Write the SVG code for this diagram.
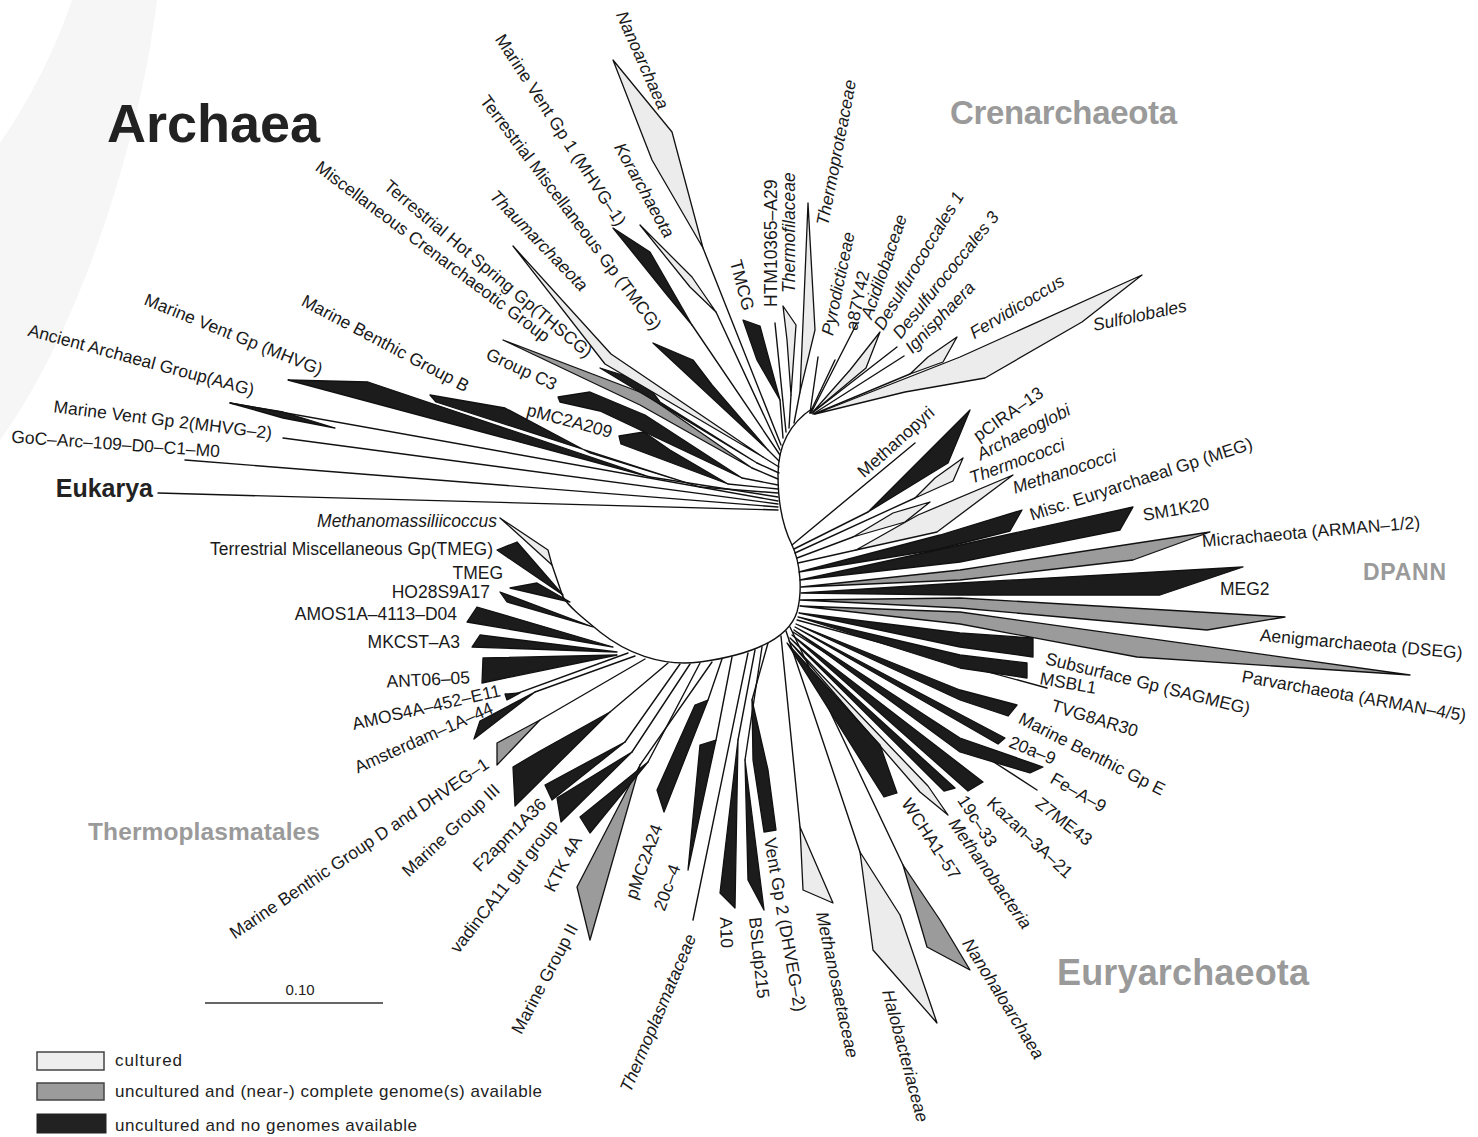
<svg xmlns="http://www.w3.org/2000/svg" width="1478" height="1137" viewBox="0 0 1478 1137">
<style>
.lb{font-family:"Liberation Sans",Arial,sans-serif;font-size:17.5px;fill:#1a1a1a}
.it{font-style:italic}
.hd{font-family:"Liberation Sans",Arial,sans-serif;font-weight:bold;fill:#9a9a9a}
.cu{fill:#ececec;stroke:#111;stroke-width:1.3;stroke-linejoin:round}
.gn{fill:#9b9b9b;stroke:#111;stroke-width:1.3;stroke-linejoin:round}
.nc{fill:#1c1c1c;stroke:#111;stroke-width:1.3;stroke-linejoin:round}
.ln{fill:none;stroke:#111;stroke-width:1.4;stroke-linecap:round}
.lg{font-family:"Liberation Sans",Arial,sans-serif;font-size:17px;fill:#222}
</style>
<rect width="1478" height="1137" fill="#fff"/>
<path d="M72,0 L157,0 C140,140 80,330 0,440 L0,143 C30,100 55,50 72,0 Z" fill="#f6f6f6"/>

<g id="titles">
<text x="107" y="142" font-family="Liberation Sans,Arial,sans-serif" font-weight="bold" font-size="54" fill="#222" textLength="213">Archaea</text>
<text class="hd" x="950" y="124" font-size="33" textLength="227">Crenarchaeota</text>
<text class="hd" x="1057" y="985" font-size="36" textLength="252">Euryarchaeota</text>
<text class="hd" x="1363" y="580" font-size="23" textLength="83">DPANN</text>
<text class="hd" x="88" y="840" font-size="24.5" textLength="232">Thermoplasmatales</text>
</g>

<g id="connectors">
<path class="ln" d="M813,408 C790,423 778,445 778,475 C778,500 782,525 792,545 C800,562 803,590 797,612 C788,640 750,655 700,662 C660,667 625,652 600,632 C583,618 570,608 563,597"/>
<line class="ln" x1="158" y1="493" x2="778" y2="510"/>
<line class="ln" x1="185" y1="460" x2="778" y2="507"/>
<line class="ln" x1="283" y1="438" x2="778" y2="504"/>
<line class="ln" x1="230" y1="403" x2="778" y2="501"/>
<line class="ln" x1="650" y1="477" x2="778" y2="497"/>
<line class="ln" x1="700" y1="487" x2="778" y2="493"/>
<line class="ln" x1="728" y1="484" x2="778" y2="489"/>
<line class="ln" x1="742" y1="478" x2="778" y2="485"/>
<line class="ln" x1="752" y1="468" x2="778" y2="479"/>
<line class="ln" x1="757" y1="463" x2="779" y2="473"/>
<line class="ln" x1="763" y1="457" x2="779" y2="467"/>
<line class="ln" x1="768" y1="450" x2="779" y2="461"/>
<line class="ln" x1="692" y1="325" x2="780" y2="455"/>
<line class="ln" x1="716" y1="312" x2="780" y2="450"/>
<line class="ln" x1="703" y1="248" x2="781" y2="445"/>
<line class="ln" x1="780" y1="400" x2="783" y2="438"/>
<line class="ln" x1="775" y1="323" x2="786" y2="432"/>
<line class="ln" x1="791" y1="395" x2="789" y2="428"/>
<line class="ln" x1="800" y1="392" x2="794" y2="423"/>
<line class="ln" x1="818" y1="357" x2="810" y2="413"/>
<line class="ln" x1="835" y1="360" x2="810" y2="413"/>
<line class="ln" x1="857" y1="323" x2="811" y2="413"/>
<line class="ln" x1="897" y1="347" x2="812" y2="413"/>
<line class="ln" x1="904" y1="356" x2="813" y2="414"/>
<line class="ln" x1="910" y1="374" x2="814" y2="414"/>
<line class="ln" x1="915" y1="443" x2="792" y2="545"/>
<line class="ln" x1="868" y1="512" x2="794" y2="549"/>
<line class="ln" x1="915" y1="498" x2="795" y2="553"/>
<line class="ln" x1="853" y1="537" x2="797" y2="558"/>
<line class="ln" x1="856" y1="550" x2="798" y2="563"/>
<line class="ln" x1="1047" y1="688" x2="797" y2="620"/>
<line class="ln" x1="1037" y1="790" x2="793" y2="632"/>
<line class="ln" x1="903" y1="865" x2="790" y2="627"/>
<line class="ln" x1="860" y1="852" x2="786" y2="631"/>
<line class="ln" x1="800" y1="827" x2="781" y2="636"/>
<line class="ln" x1="752" y1="700" x2="768" y2="643"/>
<line class="ln" x1="745" y1="760" x2="762" y2="647"/>
<line class="ln" x1="738" y1="740" x2="755" y2="650"/>
<line class="ln" x1="693" y1="920" x2="748" y2="653"/>
<line class="ln" x1="716" y1="740" x2="732" y2="657"/>
<line class="ln" x1="708" y1="700" x2="722" y2="659"/>
<line class="ln" x1="640" y1="765" x2="712" y2="662"/>
<line class="ln" x1="648" y1="762" x2="700" y2="663"/>
<line class="ln" x1="632" y1="752" x2="690" y2="664"/>
<line class="ln" x1="625" y1="742" x2="680" y2="664"/>
<line class="ln" x1="610" y1="712" x2="668" y2="663"/>
<line class="ln" x1="540" y1="720" x2="645" y2="659"/>
<line class="ln" x1="535" y1="692" x2="635" y2="656"/>
<line class="ln" x1="507" y1="697" x2="628" y2="653"/>
<line class="ln" x1="552" y1="565" x2="563" y2="597"/>
</g>

<!-- left / top-left clades -->
<g id="node-eukarya"><text x="153" y="497" text-anchor="end" font-family="Liberation Sans,Arial,sans-serif" font-weight="bold" font-size="25" fill="#222">Eukarya</text></g>
<g id="node-goc"><text class="lb" transform="translate(220 451) rotate(4)" text-anchor="end" dy=".35em">GoC–Arc–109–D0–C1–M0</text></g>
<g id="node-mhvg2"><text class="lb" transform="translate(272 433) rotate(7)" text-anchor="end" dy=".35em">Marine Vent Gp 2(MHVG–2)</text></g>
<g id="node-aag"><polygon class="nc" points="230,403 283,412 335,428 283,418"/><text class="lb" transform="translate(254 390) rotate(15)" text-anchor="end" dy=".35em">Ancient Archaeal Group(AAG)</text></g>
<g id="node-mhvg"><polygon class="nc" points="288,380 368,382 650,477"/><text class="lb" transform="translate(322 370) rotate(22)" text-anchor="end" dy=".35em">Marine Vent Gp (MHVG)</text></g>
<g id="node-mbgb"><polygon class="nc" points="430,395 505,408 590,453 700,487 436,402"/><text class="lb" transform="translate(468 387) rotate(28)" text-anchor="end" dy=".35em">Marine Benthic Group B</text></g>
<g id="node-pmc2a209"><polygon class="nc" points="619,436 644,432 670,450 728,484 621,444"/><text class="lb" transform="translate(612 432) rotate(15)" text-anchor="end" dy=".35em">pMC2A209</text></g>
<g id="node-groupc3"><polygon class="nc" points="558,397 590,392 645,415 742,478 600,411 560,402"/><text class="lb" transform="translate(556 385) rotate(25)" text-anchor="end" dy=".35em">Group C3</text></g>
<g id="node-mcg"><polygon class="gn" points="503,340 645,394 752,468 640,405"/><text class="lb" transform="translate(548 338) rotate(37)" text-anchor="end" dy=".35em">Miscellaneous Crenarchaeotic Group</text></g>
<g id="node-thscg"><polygon class="nc" points="600,368 645,382 660,402 757,463"/><text class="lb" transform="translate(590 354) rotate(40)" text-anchor="end" dy=".35em">Terrestrial Hot Spring Gp(THSCG)</text></g>
<g id="node-thaum"><polygon class="cu" points="513,246 611,354 763,457 605,364"/><text class="lb it" transform="translate(585 288) rotate(46)" text-anchor="end" dy=".35em">Thaumarchaeota</text></g>
<g id="node-tmcg"><polygon class="nc" points="653,343 693,360 712,385 768,450"/><text class="lb" transform="translate(658 328) rotate(53)" text-anchor="end" dy=".35em">Terrestrial Miscellaneous Gp (TMCG)</text></g>
<g id="node-mhvg1"><polygon class="nc" points="613,228 650,252 692,325 667,295"/><text class="lb" transform="translate(622 224) rotate(57)" text-anchor="end" dy=".35em">Marine Vent Gp 1 (MHVG–1)</text></g>
<g id="node-kor"><polygon class="cu" points="640,225 692,277 716,312 690,287"/><text class="lb it" transform="translate(670 236) rotate(61)" text-anchor="end" dy=".35em">Korarchaeota</text></g>
<g id="node-nano"><polygon class="cu" points="613,60 672,132 703,248 652,160"/><text class="lb it" transform="translate(664 108) rotate(66)" text-anchor="end" dy=".35em">Nanoarchaea</text></g>
<g id="node-tmcg2"><polygon class="nc" points="743,320 760,326 780,400 757,360"/><text class="lb" transform="translate(749 310) rotate(75)" text-anchor="end" dy=".35em">TMCG</text></g>
<g id="node-htm"><text class="lb" transform="translate(771 307) rotate(-90)" dy=".35em">HTM10365–A29</text></g>
<g id="node-thermofil"><polygon class="cu" points="783,306 796,325 791,395 787,340"/><text class="lb it" transform="translate(789 293) rotate(-90)" dy=".35em">Thermofilaceae</text></g>
<g id="node-thermoprot"><polygon class="cu" points="808,203 815,330 800,392 804,300"/><text class="lb it" transform="translate(822 225) rotate(-79)" dy=".35em">Thermoproteaceae</text></g>
<g id="node-pyro"><text class="lb it" transform="translate(827 335) rotate(-78)" dy=".35em">Pyrodicticeae</text></g>
<g id="node-a87"><text class="lb" transform="translate(851 330) rotate(-78)" dy=".35em">a87Y42</text></g>
<g id="node-acid"><text class="lb it" transform="translate(866 318) rotate(-71)" dy=".35em">Acidilobaceae</text></g>
<g id="node-desulf1"><polygon class="cu" points="880,332 866,368 812,413 850,370"/><text class="lb it" transform="translate(878 328) rotate(-59)" dy=".35em">Desulfurococcales 1</text></g>
<g id="node-desulf3"><text class="lb it" transform="translate(896 336) rotate(-51)" dy=".35em">Desulfurococcales 3</text></g>
<g id="node-ignis"><text class="lb it" transform="translate(908 350) rotate(-46)" dy=".35em">Ignisphaera</text></g>
<g id="node-fervi"><polygon class="cu" points="957,337 943,362 910,374 928,357"/><text class="lb it" transform="translate(971 334) rotate(-31)" dy=".35em">Fervidicoccus</text></g>
<g id="node-sulfo"><polygon class="cu" points="815,414 960,357 1142,275 1082,322 985,378 905,392"/><text class="lb it" transform="translate(1093 325) rotate(-12)" dy=".35em">Sulfolobales</text></g>

<!-- Euryarchaeota / DPANN -->
<g id="node-methanopyri"><text class="lb" transform="translate(860 474) rotate(-42)" dy=".35em">Methanopyri</text></g>
<g id="node-pcira"><polygon class="nc" points="970,410 948,463 868,512"/><text class="lb" transform="translate(975 437) rotate(-35)" dy=".35em">pCIRA–13</text></g>
<g id="node-archaeo"><polygon class="cu" points="963,458 953,481 915,498 935,478"/><text class="lb it" transform="translate(978 455) rotate(-27)" dy=".35em">Archaeoglobi</text></g>
<g id="node-thermoc"><polygon class="cu" points="930,502 905,522 853,537 893,513"/><text class="lb it" transform="translate(970 478) rotate(-20)" dy=".35em">Thermococci</text></g>
<g id="node-methanoc"><polygon class="cu" points="1013,475 937,532 856,550 918,515"/><text class="lb it" transform="translate(1013 488) rotate(-18)" dy=".35em">Methanococci</text></g>
<g id="node-meg"><polygon class="nc" points="1022,510 1010,531 935,550 799,572 940,535"/><text class="lb" transform="translate(1030 515) rotate(-18)" dy=".35em">Misc. Euryarchaeal Gp (MEG)</text></g>
<g id="node-sm1k20"><polygon class="nc" points="1133,507 1120,530 960,562 800,580 960,545"/><text class="lb" transform="translate(1143 515) rotate(-10)" dy=".35em">SM1K20</text></g>
<g id="node-micra"><polygon class="gn" points="1210,532 1133,560 960,580 801,587 960,570"/><text class="lb" transform="translate(1202 541) rotate(-5)" dy=".35em">Micrachaeota (ARMAN–1/2)</text></g>
<g id="node-meg2"><polygon class="nc" points="1243,567 1160,595 960,595 801,593 960,583"/><text class="lb" transform="translate(1220 589)" dy=".35em">MEG2</text></g>
<g id="node-aenig"><polygon class="gn" points="1285,617 1207,630 960,608 800,600 960,598"/><text class="lb" transform="translate(1260 635) rotate(5)" dy=".35em">Aenigmarchaeota (DSEG)</text></g>
<g id="node-parv"><polygon class="gn" points="1410,675 1137,657 960,624 800,606 960,612"/><text class="lb" transform="translate(1242 676) rotate(10)" dy=".35em">Parvarchaeota (ARMAN–4/5)</text></g>
<g id="node-sagmeg"><polygon class="nc" points="1033,638 1033,657 960,647 799,613 960,633"/><text class="lb" transform="translate(1046 658) rotate(14)" dy=".35em">Subsurface Gp (SAGMEG)</text></g>
<g id="node-msbl1"><polygon class="nc" points="1027,663 1027,678 960,668 798,617 960,655"/><text class="lb" transform="translate(1040 678) rotate(10)" dy=".35em">MSBL1</text></g>
<g id="node-tvg"><text class="lb" transform="translate(1052 705) rotate(17)" dy=".35em">TVG8AR30</text></g>
<g id="node-mbge"><polygon class="nc" points="1017,705 1008,716 960,700 796,624 960,690"/><text class="lb" transform="translate(1020 717) rotate(27)" dy=".35em">Marine Benthic Gp E</text></g>
<g id="node-20a9"><polygon class="nc" points="1005,738 998,744 795,627"/><text class="lb" transform="translate(1010 741) rotate(22)" dy=".35em">20a–9</text></g>
<g id="node-fea9"><polygon class="nc" points="1043,767 1030,773 960,752 794,630 960,738"/><text class="lb" transform="translate(1052 777) rotate(30)" dy=".35em">Fe–A–9</text></g>
<g id="node-z7"><text class="lb" transform="translate(1038 801) rotate(38)" dy=".35em">Z7ME43</text></g>
<g id="node-kazan"><polygon class="nc" points="983,782 968,791 792,635 935,745"/><text class="lb" transform="translate(990 800) rotate(43)" dy=".35em">Kazan–3A–21</text></g>
<g id="node-19c"><polygon class="nc" points="955,788 944,791 790,638"/><text class="lb" transform="translate(962 797) rotate(57)" dy=".35em">19c–33</text></g>
<g id="node-methanobact"><polygon class="cu" points="948,815 928,786 789,641 920,792"/><text class="lb it" transform="translate(953 820) rotate(55)" dy=".35em">Methanobacteria</text></g>
<g id="node-wcha"><polygon class="nc" points="897,793 884,797 787,643 880,745"/><text class="lb" transform="translate(906 800) rotate(57)" dy=".35em">WCHA1–57</text></g>
<g id="node-nanohalo"><polygon class="gn" points="903,865 940,920 970,970 927,947"/><text class="lb it" transform="translate(967 940) rotate(58)" dy=".35em">Nanohaloarchaea</text></g>
<g id="node-halo"><polygon class="cu" points="860,852 900,915 937,1023 873,950"/><text class="lb it" transform="translate(888 990) rotate(75)" dy=".35em">Halobacteriaceae</text></g>
<g id="node-methanosaet"><polygon class="cu" points="800,827 833,903 803,890"/><text class="lb it" transform="translate(822 912) rotate(78)" dy=".35em">Methanosaetaceae</text></g>
<g id="node-ventgp2"><polygon class="nc" points="752,700 768,770 776,830 764,832 753,760"/><text class="lb" transform="translate(770 838) rotate(80)" dy=".35em">Vent Gp 2 (DHVEG–2)</text></g>
<g id="node-bsl"><polygon class="nc" points="745,760 764,910 748,880"/><text class="lb" transform="translate(755 917) rotate(84)" dy=".35em">BSLdp215</text></g>
<g id="node-a10"><polygon class="nc" points="738,740 735,908 720,893"/><text class="lb" transform="translate(726 917) rotate(88)" dy=".35em">A10</text></g>

<!-- Thermoplasmatales side -->
<g id="node-thermoplasmataceae"><text class="lb it" transform="translate(691 935) rotate(-67)" text-anchor="end" dy=".35em">Thermoplasmataceae</text></g>
<g id="node-20c4"><polygon class="nc" points="716,740 688,870 700,745"/><text class="lb" transform="translate(675 865) rotate(-70)" text-anchor="end" dy=".35em">20c–4</text></g>
<g id="node-pmc2a24"><polygon class="nc" points="708,700 664,812 657,790 695,705"/><text class="lb" transform="translate(657 825) rotate(-70)" text-anchor="end" dy=".35em">pMC2A24</text></g>
<g id="node-mg2"><polygon class="gn" points="640,765 577,887 590,940"/><text class="lb" transform="translate(573 925) rotate(-62)" text-anchor="end" dy=".35em">Marine Group II</text></g>
<g id="node-ktk"><polygon class="nc" points="580,817 590,833 648,762"/><text class="lb" transform="translate(577 837) rotate(-62)" text-anchor="end" dy=".35em">KTK 4A</text></g>
<g id="node-vadin"><polygon class="nc" points="557,798 561,822 632,752"/><text class="lb" transform="translate(554 822) rotate(-52)" text-anchor="end" dy=".35em">vadinCA11 gut group</text></g>
<g id="node-f2apm"><polygon class="nc" points="545,785 552,800 625,742"/><text class="lb" transform="translate(543 801) rotate(-45)" text-anchor="end" dy=".35em">F2apm1A36</text></g>
<g id="node-mg3"><polygon class="nc" points="513,767 540,751 610,712 515,806"/><text class="lb" transform="translate(497 787) rotate(-43)" text-anchor="end" dy=".35em">Marine Group III</text></g>
<g id="node-mbgd"><polygon class="gn" points="497,743 540,720 497,765"/><text class="lb" transform="translate(487 762) rotate(-34)" text-anchor="end" dy=".35em">Marine Benthic Group D and DHVEG–1</text></g>
<g id="node-amsterdam"><polygon class="nc" points="480,721 535,692 474,739"/><text class="lb" transform="translate(492 707) rotate(-24)" text-anchor="end" dy=".35em">Amsterdam–1A–44</text></g>
<g id="node-amos4a"><polygon class="nc" points="505,694 520,693 507,700"/><text class="lb" transform="translate(500 690) rotate(-13)" text-anchor="end" dy=".35em">AMOS4A–452–E11</text></g>
<g id="node-ant06"><polygon class="nc" points="483,658 617,655 482,683"/><text class="lb" transform="translate(470 677) rotate(-3)" text-anchor="end" dy=".35em">ANT06–05</text></g>
<g id="node-mkcst"><polygon class="nc" points="472,647 480,635 617,652"/><text class="lb" x="460" y="648" text-anchor="end">MKCST–A3</text></g>
<g id="node-amos1a"><polygon class="nc" points="467,622 477,607 613,647"/><text class="lb" x="457" y="620" text-anchor="end">AMOS1A–4113–D04</text></g>
<g id="node-ho28"><polygon class="nc" points="500,592 507,602 593,627"/><text class="lb" x="490" y="598" text-anchor="end">HO28S9A17</text></g>
<g id="node-tmeg"><polygon class="nc" points="510,588 537,583 570,602"/><text class="lb" x="503" y="579" text-anchor="end">TMEG</text></g>
<g id="node-tmegfull"><polygon class="nc" points="497,550 517,542 563,595"/><text class="lb" x="493" y="555" text-anchor="end">Terrestrial Miscellaneous Gp(TMEG)</text></g>
<g id="node-methanomass"><polygon class="cu" points="500,518 548,550 552,565 530,545"/><text class="lb it" x="497" y="527" text-anchor="end">Methanomassiliicoccus</text></g>

<g id="scale-bar">
<line x1="205" y1="1003" x2="383" y2="1003" stroke="#333" stroke-width="1.5"/>
<text x="300" y="995" text-anchor="middle" font-family="Liberation Sans,Arial,sans-serif" font-size="15" fill="#222">0.10</text>
</g>

<g id="legend">
<rect x="37" y="1052" width="67" height="18" fill="#eeeeee" stroke="#444" stroke-width="1.5"/>
<rect x="37" y="1083" width="67" height="17" fill="#9b9b9b" stroke="#444" stroke-width="1.5"/>
<rect x="37" y="1114" width="69" height="19" fill="#222" stroke="#222" stroke-width="1"/>
<text class="lg" x="115" y="1066" textLength="67">cultured</text>
<text class="lg" x="115" y="1097" textLength="427">uncultured and (near-) complete genome(s) available</text>
<text class="lg" x="115" y="1131" textLength="302">uncultured and no genomes available</text>
</g>
</svg>
